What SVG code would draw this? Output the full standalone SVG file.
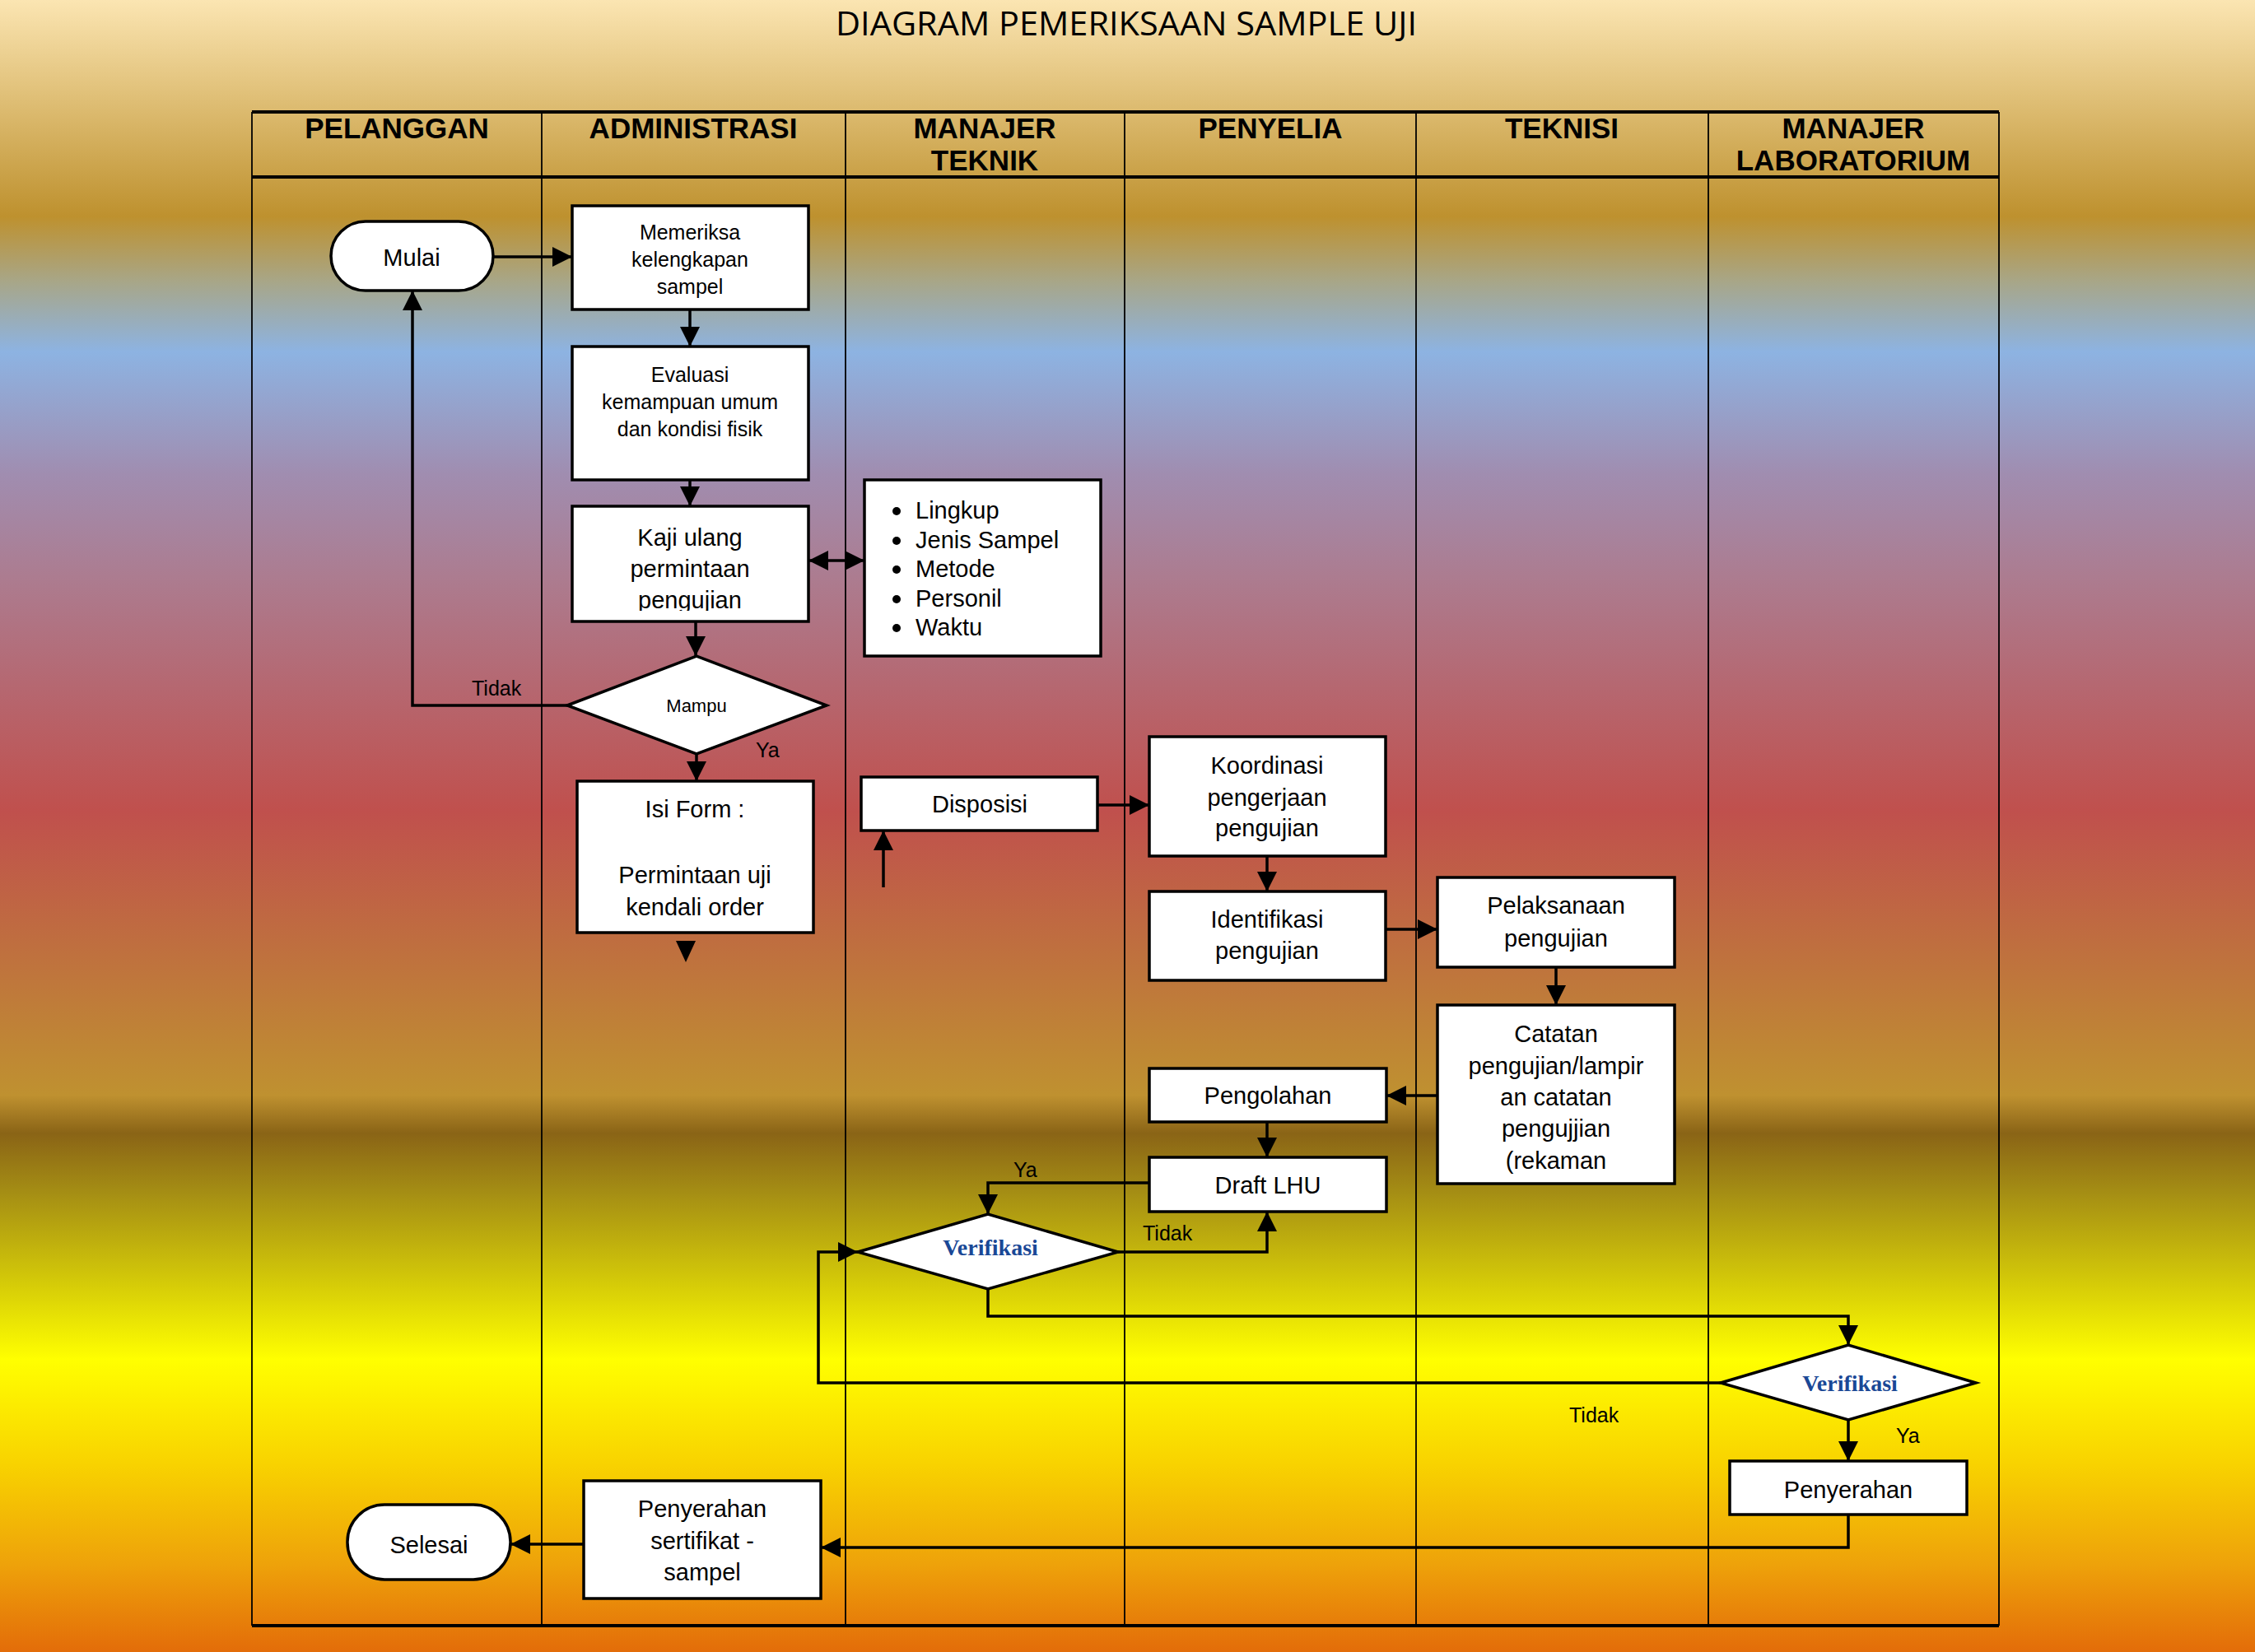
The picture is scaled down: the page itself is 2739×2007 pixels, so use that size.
<svg xmlns="http://www.w3.org/2000/svg" width="2739" height="2007" viewBox="0 0 2739 2007">
<defs>
<linearGradient id="bg" x1="0" y1="0" x2="0" y2="1">
<stop offset="0" stop-color="#FBE5B2"/>
<stop offset="0.131" stop-color="#BE912E"/>
<stop offset="0.17" stop-color="#A8A687"/>
<stop offset="0.213" stop-color="#8DB3E2"/>
<stop offset="0.287" stop-color="#A08DB0"/>
<stop offset="0.349" stop-color="#AC7C90"/>
<stop offset="0.491" stop-color="#C0504D"/>
<stop offset="0.573" stop-color="#BF6F3F"/>
<stop offset="0.663" stop-color="#BF9130"/>
<stop offset="0.686" stop-color="#8A6416"/>
<stop offset="0.722" stop-color="#A58E14"/>
<stop offset="0.777" stop-color="#D5CB08"/>
<stop offset="0.823" stop-color="#FFFF00"/>
<stop offset="0.887" stop-color="#F8D200"/>
<stop offset="0.947" stop-color="#EEA20A"/>
<stop offset="1" stop-color="#E36C09"/>
</linearGradient>
<marker id="arr" markerUnits="userSpaceOnUse" markerWidth="24" markerHeight="24" refX="24" refY="12" orient="auto-start-reverse" viewBox="0 0 24 24"><path d="M0,0 L24,12 L0,24 z" fill="#000"/></marker>
<clipPath id="clipKaji"><rect x="697" y="617" width="283" height="125"/></clipPath>
<clipPath id="clipCat"><rect x="1748" y="1223" width="284" height="212"/></clipPath>
</defs>
<style>
.box{fill:#fff;stroke:#000;stroke-width:3.5}
.t{font-family:"Liberation Sans",Arial,sans-serif;font-size:29px;fill:#000;text-anchor:middle}
.s{font-size:25px}
.m{font-size:22px}
.lbl{font-family:"Liberation Sans",Arial,sans-serif;font-size:25px;fill:#000}
.bl{font-family:"Liberation Sans",Arial,sans-serif;font-size:29px;fill:#000}
.hdr{font-family:"Liberation Sans",Arial,sans-serif;font-weight:bold;font-size:35px;text-anchor:middle;fill:#000}
.ver{font-family:"Liberation Serif","Times New Roman",serif;font-weight:bold;font-size:28px;fill:#1A4896;text-anchor:middle}
.c{fill:none;stroke:#000;stroke-width:3.5}
.ca{fill:none;stroke:#000;stroke-width:3.5;marker-end:url(#arr)}
.grid{stroke:#000;stroke-width:1.8}
.gridT{stroke:#000;stroke-width:4}
</style>
<rect x="0" y="0" width="2739" height="2007" fill="url(#bg)"/>
<text x="1368" y="43" font-family="'Open Sans','Liberation Sans',sans-serif" font-size="41" text-anchor="middle" textLength="706" lengthAdjust="spacingAndGlyphs" fill="#000">DIAGRAM PEMERIKSAAN SAMPLE UJI</text>

<g id="swimlanes">
<line class="gridT" x1="306" y1="136" x2="2428" y2="136"/>
<line class="gridT" x1="306" y1="215" x2="2428" y2="215"/>
<line class="gridT" x1="306" y1="1975" x2="2428" y2="1975"/>
<line class="grid" x1="306" y1="136" x2="306" y2="1975"/>
<line class="grid" x1="658" y1="136" x2="658" y2="1975"/>
<line class="grid" x1="1027" y1="136" x2="1027" y2="1975"/>
<line class="grid" x1="1366" y1="136" x2="1366" y2="1975"/>
<line class="grid" x1="1720" y1="136" x2="1720" y2="1975"/>
<line class="grid" x1="2075" y1="136" x2="2075" y2="1975"/>
<line class="grid" x1="2428" y1="136" x2="2428" y2="1975"/>
<text class="hdr" x="482" y="168">PELANGGAN</text>
<text class="hdr" x="842" y="168">ADMINISTRASI</text>
<text class="hdr" x="1196" y="168">MANAJER</text>
<text class="hdr" x="1196" y="207">TEKNIK</text>
<text class="hdr" x="1543" y="168">PENYELIA</text>
<text class="hdr" x="1897" y="168">TEKNISI</text>
<text class="hdr" x="2251" y="168">MANAJER</text>
<text class="hdr" x="2251" y="207">LABORATORIUM</text>
</g>

<g id="connectors">
<path class="ca" d="M599,312 H695"/>
<path class="ca" d="M838,376 V421"/>
<path class="ca" d="M838,583 V615"/>
<path class="ca" d="M845,755 V797"/>
<path class="ca" d="M982,681 H1050" marker-start="url(#arr)"/>
<path class="ca" d="M689,857 H501 V353"/>
<path class="ca" d="M846,916 V949"/>
<polygon points="821,1143 845,1143 833,1169" fill="#000"/>
<path class="ca" d="M1073,1078 V1009"/>
<path class="ca" d="M1333,978 H1396"/>
<path class="ca" d="M1539,1040 V1083"/>
<path class="ca" d="M1683,1129 H1746"/>
<path class="ca" d="M1890,1175 V1221"/>
<path class="ca" d="M1746,1331 H1684"/>
<path class="ca" d="M1539,1363 V1406"/>
<path class="ca" d="M1396,1437 H1200 V1475"/>
<path class="ca" d="M1358,1521 H1539 V1472"/>
<path class="ca" d="M1200,1566 V1599 H2245 V1634"/>
<path class="ca" d="M2090,1680 H994 V1521 H1042"/>
<path class="ca" d="M2245,1725 V1775"/>
<path class="ca" d="M2245,1840 V1880 H997"/>
<path class="ca" d="M709,1876 H620"/>
<text class="lbl" x="573" y="845">Tidak</text>
<text class="lbl" x="918" y="920">Ya</text>
<text class="lbl" x="1231" y="1430">Ya</text>
<text class="lbl" x="1388" y="1507">Tidak</text>
<text class="lbl" x="1906" y="1728">Tidak</text>
<text class="lbl" x="2303" y="1753">Ya</text>
</g>

<g id="mulai">
<rect class="box" x="402" y="269" width="197" height="84" rx="42" ry="42"/>
<text class="t" x="500" y="323">Mulai</text>
</g>
<g id="memeriksa">
<rect class="box" x="695" y="250" width="287" height="126"/>
<text class="t s" x="838" y="291">Memeriksa</text>
<text class="t s" x="838" y="324">kelengkapan</text>
<text class="t s" x="838" y="357">sampel</text>
</g>
<g id="evaluasi">
<rect class="box" x="695" y="421" width="287" height="162"/>
<text class="t s" x="838" y="464">Evaluasi</text>
<text class="t s" x="838" y="497">kemampuan umum</text>
<text class="t s" x="838" y="530">dan kondisi fisik</text>
</g>
<g id="kaji-ulang">
<rect class="box" x="695" y="615" width="287" height="140"/>
<g clip-path="url(#clipKaji)">
<text class="t" x="838" y="663">Kaji ulang</text>
<text class="t" x="838" y="701">permintaan</text>
<text class="t" x="838" y="739">pengujian</text>
</g>
</g>
<g id="lingkup">
<rect class="box" x="1050" y="583" width="287" height="214"/>
<circle cx="1089" cy="621" r="5"/>
<circle cx="1089" cy="657" r="5"/>
<circle cx="1089" cy="692" r="5"/>
<circle cx="1089" cy="728" r="5"/>
<circle cx="1089" cy="763" r="5"/>
<text class="bl" x="1112" y="630">Lingkup</text>
<text class="bl" x="1112" y="666">Jenis Sampel</text>
<text class="bl" x="1112" y="701">Metode</text>
<text class="bl" x="1112" y="737">Personil</text>
<text class="bl" x="1112" y="772">Waktu</text>
</g>
<g id="mampu">
<polygon class="box" points="689,857 846,797 1004,857 846,916"/>
<text class="t m" x="846" y="865">Mampu</text>
</g>
<g id="isi-form">
<rect class="box" x="701" y="949" width="287" height="184"/>
<text class="t" x="844" y="993">Isi Form :</text>
<text class="t" x="844" y="1073">Permintaan uji</text>
<text class="t" x="844" y="1112">kendali order</text>
</g>
<g id="disposisi">
<rect class="box" x="1046" y="944" width="287" height="65"/>
<text class="t" x="1190" y="987">Disposisi</text>
</g>
<g id="koordinasi">
<rect class="box" x="1396" y="895" width="287" height="145"/>
<text class="t" x="1539" y="940">Koordinasi</text>
<text class="t" x="1539" y="979">pengerjaan</text>
<text class="t" x="1539" y="1016">pengujian</text>
</g>
<g id="identifikasi">
<rect class="box" x="1396" y="1083" width="287" height="108"/>
<text class="t" x="1539" y="1127">Identifikasi</text>
<text class="t" x="1539" y="1165">pengujian</text>
</g>
<g id="pelaksanaan">
<rect class="box" x="1746" y="1066" width="288" height="109"/>
<text class="t" x="1890" y="1110">Pelaksanaan</text>
<text class="t" x="1890" y="1150">pengujian</text>
</g>
<g id="catatan">
<rect class="box" x="1746" y="1221" width="288" height="217"/>
<g clip-path="url(#clipCat)">
<text class="t" x="1890" y="1266">Catatan</text>
<text class="t" x="1890" y="1305">pengujian/lampir</text>
<text class="t" x="1890" y="1343">an catatan</text>
<text class="t" x="1890" y="1381">pengujjian</text>
<text class="t" x="1890" y="1420">(rekaman</text>
</g>
</g>
<g id="pengolahan">
<rect class="box" x="1396" y="1298" width="288" height="65"/>
<text class="t" x="1540" y="1341">Pengolahan</text>
</g>
<g id="draft-lhu">
<rect class="box" x="1396" y="1406" width="288" height="66"/>
<text class="t" x="1540" y="1450">Draft LHU</text>
</g>
<g id="verifikasi-1">
<polygon class="box" points="1042,1521 1200,1475 1358,1521 1200,1566"/>
<text class="ver" x="1203" y="1525">Verifikasi</text>
</g>
<g id="verifikasi-2">
<polygon class="box" points="2090,1680 2245,1634 2400,1680 2245,1725"/>
<text class="ver" x="2247" y="1690">Verifikasi</text>
</g>
<g id="penyerahan">
<rect class="box" x="2101" y="1775" width="288" height="65"/>
<text class="t" x="2245" y="1820">Penyerahan</text>
</g>
<g id="penyerahan-sertifikat">
<rect class="box" x="709" y="1799" width="288" height="143"/>
<text class="t" x="853" y="1843">Penyerahan</text>
<text class="t" x="853" y="1882">sertifikat -</text>
<text class="t" x="853" y="1920">sampel</text>
</g>
<g id="selesai">
<rect class="box" x="422" y="1828" width="198" height="91" rx="45" ry="45"/>
<text class="t" x="521" y="1887">Selesai</text>
</g>
</svg>
